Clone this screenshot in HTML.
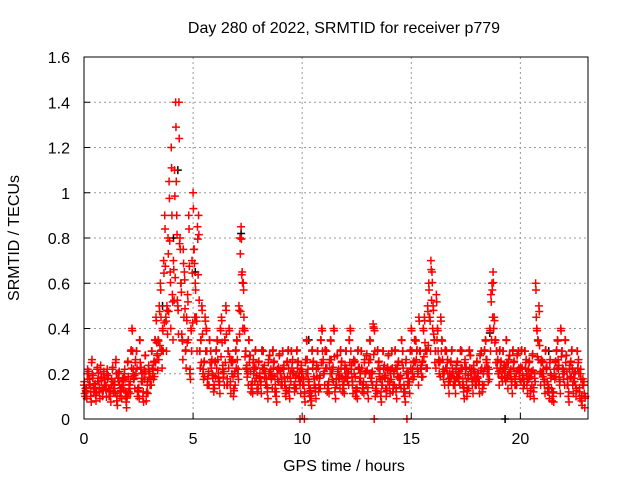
<!DOCTYPE html>
<html><head><meta charset="utf-8"><style>
body{margin:0;background:#fff}
svg{display:block;font-family:"Liberation Sans",sans-serif;font-size:16px}
.big{font-size:16px}
</style></head><body>
<svg width="640" height="480" id="c">
<text class="big" x="344" y="33" text-anchor="middle">Day 280 of 2022, SRMTID for receiver p779</text>
<text class="big" x="344" y="471" text-anchor="middle">GPS time / hours</text>
<text class="big" transform="translate(19,238) rotate(-90)" text-anchor="middle">SRMTID / TECUs</text>
<g id="grid"></g>
<g id="ticks"></g>
<g id="pts"></g>
<rect x="84" y="57" width="504" height="362" fill="none" stroke="#000"/>
</svg>
<script>
const xTicks=[0,5,10,15,20];
const yTicks=[0,0.2,0.4,0.6,0.8,1,1.2,1.4,1.6];
const yTickLabels=["0","0.2","0.4","0.6","0.8","1","1.2","1.4","1.6"];
const redA=[0.15,0.12,0.2,0.1,0.18,0.14,0.22,0.12,0.17,0.2,
0.13,0.18,0.1,0.22,0.15,0.08,0.2,0.12,0.17,0.1,
0.25,0.15,0.4,0.18,0.3,0.12,0.22,0.1,0.28,0.15,
0.2,0.3,0.25,0.45,0.35,0.6,0.4,0.9,0.5,1.05,
1.2,0.7,1.4,0.5,0.8,0.35,0.65,0.45,0.9,0.4,
1.0,0.6,0.85,0.3,0.5,0.25,0.4,0.2,0.3,0.18,
0.25,0.35,0.15,0.45,0.2,0.5,0.3,0.15,0.25,0.2,
0.35,0.5,0.85,0.6,0.3,0.2,0.28,0.15,0.22,0.18,
0.25,0.15,0.3,0.2,0.12,0.28,0.18,0.25,0.1,0.22,
0.2,0.3,0.15,0.25,0.12,0.3,0.2,0.18,0.25,0.15,
0.2,0.1,0.35,0.15,0.08,0.25,0.12,0.3,0.18,0.4,
0.2,0.3,0.15,0.35,0.22,0.12,0.28,0.18,0.25,0.15,
0.3,0.2,0.4,0.15,0.25,0.12,0.22,0.3,0.15,0.2,
0.12,0.35,0.2,0.4,0.15,0.25,0.1,0.3,0.18,0.22,
0.15,0.3,0.2,0.12,0.25,0.18,0.3,0.1,0.2,0.15,
0.4,0.25,0.35,0.2,0.3,0.25,0.45,0.3,0.6,0.7,
0.5,0.3,0.4,0.25,0.35,0.2,0.3,0.15,0.25,0.2,
0.15,0.25,0.2,0.3,0.12,0.22,0.18,0.28,0.15,0.2,
0.25,0.15,0.3,0.2,0.35,0.22,0.4,0.6,0.45,0.3,
0.2,0.25,0.3,0.22,0.18,0.28,0.15,0.25,0.2,0.3,
0.22,0.18,0.3,0.15,0.25,0.2,0.12,0.6,0.35,0.2,
0.25,0.15,0.22,0.12,0.18,0.1,0.25,0.35,0.15,0.3,
0.2,0.28,0.1,0.25,0.15,0.2,0.3,0.12,0.08,0.15];
const redB=[0.1,0.2,0.15,0.25,0.12,0.08,0.18,0.22,0.1,0.15,
0.2,0.1,0.15,0.12,0.25,0.18,0.1,0.15,0.2,0.05,
0.12,0.3,0.2,0.25,0.1,0.35,0.18,0.2,0.08,0.22,
0.15,0.2,0.35,0.28,0.5,0.3,0.7,0.45,0.8,0.65,
0.55,1.1,0.9,1.4,0.6,0.75,0.3,0.55,0.2,0.7,
0.75,0.45,0.9,0.35,0.2,0.45,0.15,0.35,0.25,0.12,
0.3,0.18,0.4,0.22,0.35,0.15,0.4,0.25,0.1,0.3,
0.2,0.8,0.65,0.4,0.22,0.35,0.12,0.25,0.3,0.12,
0.18,0.3,0.22,0.15,0.25,0.2,0.3,0.12,0.2,0.28,
0.15,0.22,0.1,0.3,0.18,0.25,0.12,0.3,0.18,0.22,
0.15,0.25,0.2,0.1,0.3,0.15,0.22,0.12,0.35,0.25,
0.3,0.12,0.25,0.2,0.4,0.15,0.2,0.3,0.12,0.22,
0.18,0.35,0.22,0.25,0.1,0.3,0.18,0.12,0.25,0.28,
0.25,0.18,0.42,0.1,0.3,0.2,0.15,0.22,0.1,0.28,
0.2,0.12,0.3,0.22,0.15,0.35,0.12,0.25,0.18,0.3,
0.2,0.35,0.3,0.45,0.22,0.4,0.3,0.5,0.45,0.65,
0.35,0.55,0.25,0.45,0.2,0.3,0.25,0.18,0.3,0.15,
0.22,0.18,0.3,0.15,0.25,0.1,0.3,0.2,0.22,0.15,
0.18,0.28,0.12,0.3,0.25,0.2,0.55,0.65,0.35,0.25,
0.3,0.18,0.22,0.35,0.25,0.2,0.3,0.15,0.28,0.2,
0.3,0.15,0.25,0.2,0.1,0.28,0.18,0.4,0.5,0.25,
0.2,0.3,0.12,0.25,0.08,0.2,0.3,0.22,0.4,0.2,
0.35,0.15,0.22,0.3,0.18,0.1,0.25,0.2,0.15,0.05];
const zeroTimes=[9.9,10.1,13.3,14.8];
const blackTimes=[3.6,4.1,4.3,5.1,7.2,7.3,10.3,18.6,19.3,21.3];
const blackVals=[0.5,0.8,1.1,0.65,0.82,0.6,0.35,0.38,0,0.3];
const X=t=>84+t*(504/23.1), Y=v=>419-v*(362/1.6);
const ns="http://www.w3.org/2000/svg";
const g=document.getElementById('grid'),tk=document.getElementById('ticks'),p=document.getElementById('pts');
function mk(tag,at,par){const e=document.createElementNS(ns,tag);for(const k in at)e.setAttribute(k,at[k]);par.appendChild(e);return e;}
xTicks.forEach(t=>{const x=X(t);
 if(t>0){const l=mk('line',{x1:x,y1:57,x2:x,y2:419,stroke:'#999','stroke-dasharray':'2,3'},g);
 
 }
 mk('line',{x1:x,y1:419,x2:x,y2:413,stroke:'#000'},tk);
 const s=mk('text',{x:x,y:444,'text-anchor':'middle'},tk);s.textContent=t;
 
 });
yTicks.forEach((v,i)=>{const y=Y(v);
 if(v>0&&v<1.6){const l=mk('line',{x1:84,y1:y,x2:588,y2:y,stroke:'#999','stroke-dasharray':'2,3'},g);
 
 }
 mk('line',{x1:84,y1:y,x2:90,y2:y,stroke:'#000'},tk);
 const s=mk('text',{x:70,y:y+6,'text-anchor':'end'},tk);s.textContent=yTickLabels[i];
 
 });
function plus(t,v,c){const x=X(t),y=Y(v);
 const e=mk('path',{d:`M${x-4} ${y}H${x+4}M${x} ${y-4}V${y+4}`,stroke:c,'stroke-width':1.5,fill:'none'},p);
 
 }
blackTimes.forEach((t,i)=>plus(t,blackVals[i],'#000'));
redA.forEach((v,i)=>{plus(i*0.1,v,'#f00');plus(i*0.1+0.03,Math.max(0.04,v*0.75),'#f00');plus(i*0.1+0.015,v*0.9+0.03,'#f00');});
redB.forEach((v,i)=>{plus(i*0.1+0.05,v,'#f00');plus(i*0.1+0.08,Math.max(0.04,(v+0.15)/2),'#f00');plus(i*0.1+0.065,v*0.85+0.05,'#f00');});
zeroTimes.forEach(t=>plus(t,0,'#f00'));
</script>
</body></html>
